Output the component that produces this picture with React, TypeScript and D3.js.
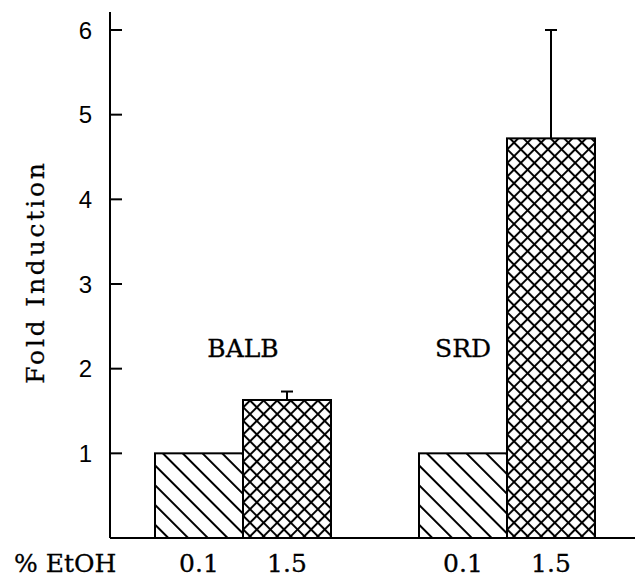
import React from "react";
import * as d3 from "d3";

const groups = ["BALB", "SRD"];
const conditions = ["0.1", "1.5"];
const balbValues = [1.0, 1.63];
const srdValues = [1.0, 4.72];
const balbErrors = [0, 0.1];
const srdErrors = [0, 1.28];
const yTicks = [1, 2, 3, 4, 5, 6];
const yLabel = "Fold Induction";
const xLabel = "% EtOH";

const W = 635;
const H = 578;

export default function App() {
  const x0 = d3.scaleBand<string>().domain(groups).range([111, 639]).paddingInner(1 / 3).paddingOuter(1 / 6);
  const x1 = d3.scaleBand<string>().domain(conditions).range([0, x0.bandwidth()]).padding(0);
  const y = d3.scaleLinear().domain([0, 6]).range([538, 30]);

  const data = groups.map((g, gi) => ({
    group: g,
    values: (gi === 0 ? balbValues : srdValues).map((v, ci) => ({
      cond: conditions[ci],
      value: v,
      err: (gi === 0 ? balbErrors : srdErrors)[ci],
    })),
  }));

  const serif = "'DejaVu Serif', serif";
  const sans = "'Liberation Sans', Arial, sans-serif";
  const axisX = 110;
  const textStyle = { stroke: "#000", strokeWidth: 0.3 } as const;

  return (
    <svg width={W} height={H} style={{ position: "absolute", left: 0, top: 0, background: "#fff" }}>
      <defs>
        <pattern id="diag" patternUnits="userSpaceOnUse" width={14} height={14} patternTransform="rotate(-45)">
          <line x1={7} y1={-2} x2={7} y2={16} stroke="#000" strokeWidth={2} />
        </pattern>
        <pattern id="cross" patternUnits="userSpaceOnUse" width={9.6} height={9.6} patternTransform="rotate(45)">
          <line x1={4.8} y1={-2} x2={4.8} y2={12} stroke="#000" strokeWidth={2} />
          <line x1={-2} y1={4.8} x2={12} y2={4.8} stroke="#000" strokeWidth={2} />
        </pattern>
      </defs>

      {/* bars */}
      {data.map((g) => (
        <g key={g.group} transform={`translate(${x0(g.group)},0)`}>
          {g.values.map((d, ci) => {
            const bx = x1(d.cond)!;
            const bw = x1.bandwidth();
            const cx = bx + bw / 2;
            return (
              <g key={d.cond}>
                {d.err > 0 && (
                  <g stroke="#000" strokeWidth={2}>
                    <line x1={cx} x2={cx} y1={y(d.value)} y2={y(d.value + d.err)} />
                    <line x1={cx - 6} x2={cx + 6} y1={y(d.value + d.err)} y2={y(d.value + d.err)} />
                  </g>
                )}
                <rect
                  x={bx}
                  y={y(d.value)}
                  width={bw}
                  height={y(0) - y(d.value)}
                  fill={ci === 0 ? "url(#diag)" : "url(#cross)"}
                  stroke="#000"
                  strokeWidth={2}
                />
              </g>
            );
          })}
        </g>
      ))}

      {/* axes */}
      <line x1={axisX} x2={axisX} y1={12} y2={y(0)} stroke="#000" strokeWidth={2} />
      <line x1={axisX} x2={W} y1={y(0)} y2={y(0)} stroke="#000" strokeWidth={2} />
      {yTicks.map((t) => (
        <g key={t}>
          <line x1={axisX} x2={axisX + 12} y1={y(t)} y2={y(t)} stroke="#000" strokeWidth={2} />
          <text x={92} y={y(t)} dy="0.36em" textAnchor="end" fontFamily={sans} fontSize={24} fill="#000">
            {t}
          </text>
        </g>
      ))}

      {/* x labels */}
      {groups.map((g) =>
        conditions.map((c) => (
          <text
            key={g + c}
            x={x0(g)! + x1(c)! + x1.bandwidth() / 2}
            y={572}
            textAnchor="middle"
            fontFamily={serif}
            fontSize={25}
            fill="#000"
            {...textStyle}
          >
            {c}
          </text>
        ))
      )}
      <text x={14} y={572} fontFamily={serif} fontSize={25} fill="#000" {...textStyle}>
        {xLabel}
      </text>

      {/* group labels */}
      <text x={x0("BALB")! + x0.bandwidth() / 2} y={357} textAnchor="middle" fontFamily={serif} fontSize={25} fill="#000" {...textStyle}>
        BALB
      </text>
      <text x={x0("SRD")! + x1("0.1")! + x1.bandwidth() / 2} y={357} textAnchor="middle" fontFamily={serif} fontSize={25} fill="#000" {...textStyle}>
        SRD
      </text>

      {/* y label */}
      <text
        transform={`translate(44,272) rotate(-90)`}
        textAnchor="middle"
        fontFamily={serif}
        fontSize={25}
        letterSpacing={2.8}
        fill="#000"
        {...textStyle}
      >
        {yLabel}
      </text>
    </svg>
  );
}
